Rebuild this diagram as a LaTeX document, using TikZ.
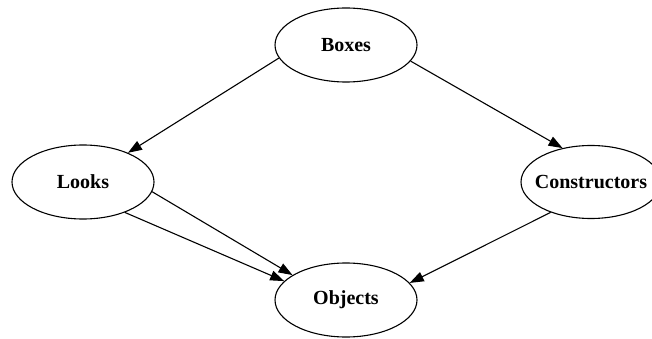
\documentclass[tikz,border=0pt]{standalone}
\usepackage{fontspec}
\setmainfont{Liberation Serif}
\usetikzlibrary{shapes.geometric,arrows.meta}
\tikzset{
  gnode/.style={ellipse, draw, line width=1.1pt, inner sep=0pt,
    minimum width=142pt, minimum height=74pt,
    font=\fontsize{20}{24}\selectfont\bfseries},
  gedge/.style={line width=1.1pt, -{Triangle[length=14pt,width=10pt]}}
}
\begin{document}
\begin{tikzpicture}[x=1pt,y=-1pt]
\useasboundingbox (0,0) rectangle (652,339);
\node[gnode] (B) at (346,45) {Boxes};
\node[gnode, inner xsep=-8pt, minimum width=140pt, minimum height=73pt] (C) at (591,182) {Constructors};
\node[gnode] (L) at (83,182) {Looks};
\node[gnode] (O) at (346,300) {Objects};
\draw[gedge] (B.191) -- (L.33);
\draw[gedge] (B.-14) -- (C.130);
\draw[gedge] (L.-8) -- (O.155);
\draw[gedge] (L.-36) -- (O.163);
\draw[gedge] (C.217) -- (O.15);
\end{tikzpicture}
\end{document}
